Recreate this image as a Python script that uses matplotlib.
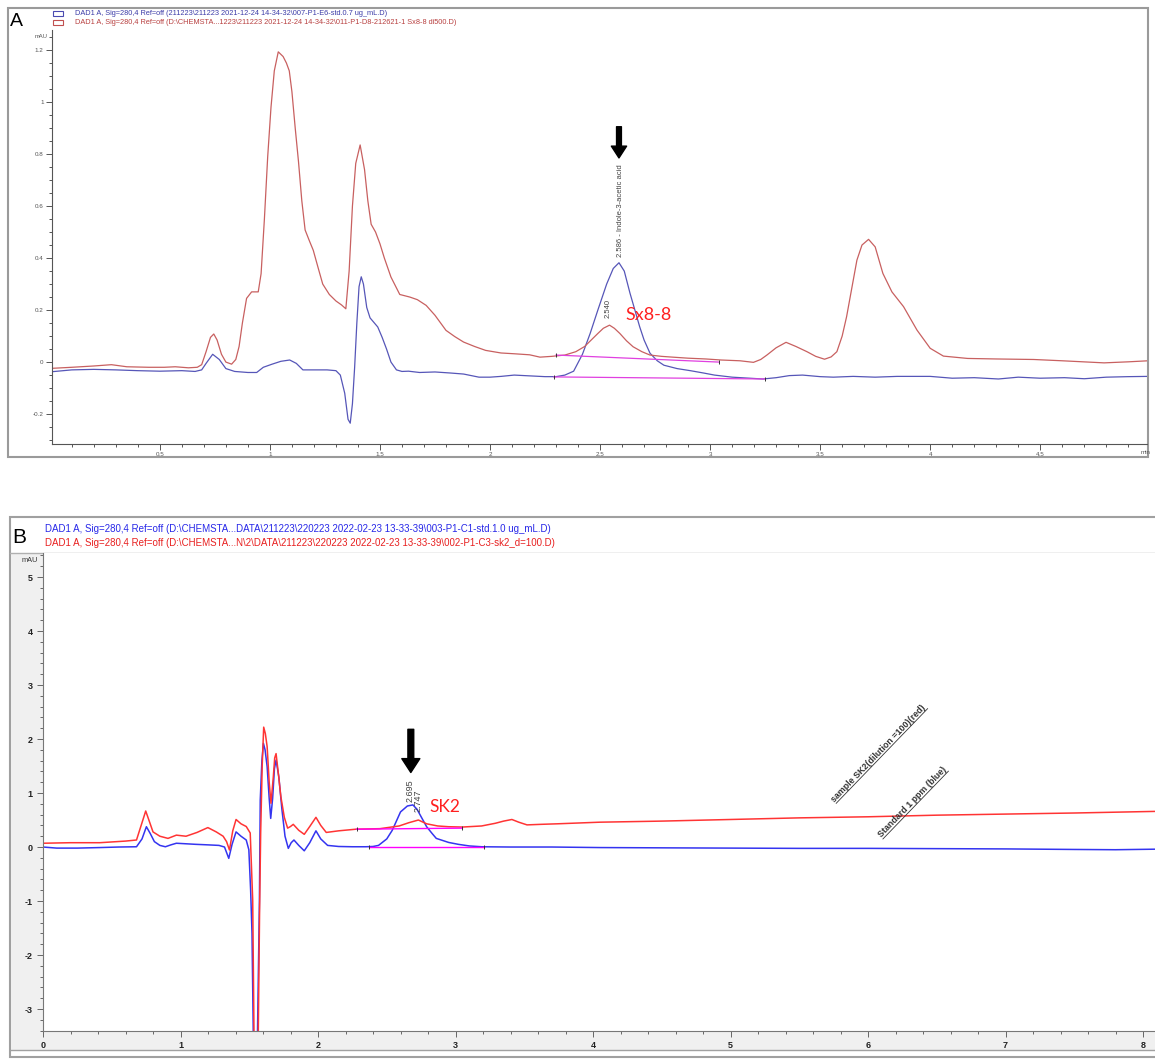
import numpy as np
import matplotlib.pyplot as plt
from matplotlib.patches import Rectangle
from matplotlib.lines import Line2D
from matplotlib.ticker import MultipleLocator, FixedLocator, FuncFormatter

plt.rcParams['font.family'] = ['Liberation Sans', 'DejaVu Sans']

W, H = 1155, 1060

# ---------------- panel A data (time min, mAU) ----------------
a_blue_t = [0.01, 0.10, 0.20, 0.30, 0.40, 0.50, 0.60, 0.66, 0.69, 0.71, 0.74, 0.77, 0.80, 0.84,
            0.90, 0.94, 0.97, 1.01, 1.05, 1.09, 1.12, 1.15, 1.20, 1.26, 1.30, 1.32, 1.34, 1.355,
            1.365, 1.375, 1.385, 1.395, 1.405, 1.415, 1.425, 1.44, 1.455, 1.47, 1.49, 1.51, 1.53,
            1.55, 1.575, 1.60, 1.63, 1.68, 1.75, 1.82, 1.88, 1.95, 2.00, 2.05, 2.11, 2.18, 2.25,
            2.30, 2.34, 2.38, 2.42, 2.455, 2.49, 2.53, 2.56, 2.586, 2.61, 2.636, 2.66, 2.68, 2.70,
            2.727, 2.76, 2.79, 2.85, 2.91, 2.97, 3.02, 3.10, 3.18, 3.24, 3.30, 3.36, 3.42, 3.50,
            3.56, 3.65, 3.75, 3.85, 4.00, 4.10, 4.20, 4.31, 4.40, 4.50, 4.61, 4.70, 4.80, 4.90, 4.99]
a_blue_v = [-0.037, -0.030, -0.028, -0.030, -0.033, -0.035, -0.033, -0.036, -0.030, -0.005, 0.030,
            0.010, -0.025, -0.036, -0.040, -0.040, -0.020, -0.008, 0.003, 0.008, -0.005, -0.030,
            -0.030, -0.030, -0.033, -0.050, -0.120, -0.220, -0.235, -0.160, -0.020, 0.150, 0.290,
            0.328, 0.300, 0.210, 0.170, 0.155, 0.135, 0.095, 0.050, 0.000, -0.030, -0.036, -0.035,
            -0.040, -0.038, -0.042, -0.046, -0.058, -0.058, -0.055, -0.050, -0.053, -0.056, -0.056,
            -0.050, -0.035, 0.030, 0.110, 0.200, 0.300, 0.360, 0.382, 0.350, 0.265, 0.195, 0.136,
            0.085, 0.034, 0.005, -0.012, -0.025, -0.033, -0.042, -0.050, -0.058, -0.062, -0.065,
            -0.060, -0.052, -0.050, -0.056, -0.058, -0.055, -0.058, -0.055, -0.055, -0.062, -0.060,
            -0.065, -0.058, -0.062, -0.060, -0.064, -0.058, -0.056, -0.055]

a_red_t = [0.01, 0.10, 0.20, 0.28, 0.35, 0.45, 0.52, 0.57, 0.63, 0.67, 0.69, 0.71, 0.73, 0.745,
           0.76, 0.78, 0.80, 0.826, 0.845, 0.86, 0.875, 0.894, 0.917, 0.947, 0.96, 0.975, 0.99,
           1.005, 1.02, 1.038, 1.06, 1.075, 1.088, 1.10, 1.115, 1.13, 1.145, 1.16, 1.18, 1.197,
           1.22, 1.24, 1.27, 1.30, 1.325, 1.345, 1.36, 1.375, 1.39, 1.41, 1.43, 1.445, 1.46, 1.48,
           1.50, 1.52, 1.55, 1.59, 1.636, 1.67, 1.71, 1.75, 1.80, 1.84, 1.88, 1.93, 1.98, 2.05,
           2.11, 2.18, 2.227, 2.28, 2.34, 2.39, 2.43, 2.46, 2.49, 2.515, 2.543, 2.565, 2.59, 2.62,
           2.65, 2.69, 2.727, 2.78, 2.83, 2.90, 2.98, 3.05, 3.136, 3.197, 3.23, 3.258, 3.30, 3.345,
           3.39, 3.44, 3.48, 3.52, 3.55, 3.576, 3.60, 3.62, 3.645, 3.667, 3.69, 3.72, 3.75, 3.785,
           3.826, 3.879, 3.94, 4.00, 4.06, 4.17, 4.30, 4.47, 4.60, 4.79, 4.90, 4.99]
a_red_v = [-0.024, -0.020, -0.015, -0.010, -0.018, -0.020, -0.020, -0.018, -0.022, -0.020, -0.010,
           0.040, 0.095, 0.108, 0.085, 0.030, 0.000, -0.008, 0.010, 0.060, 0.150, 0.245, 0.270,
           0.270, 0.340, 0.550, 0.790, 0.980, 1.120, 1.193, 1.175, 1.150, 1.120, 1.040, 0.900,
           0.770, 0.620, 0.508, 0.465, 0.430, 0.360, 0.300, 0.260, 0.235, 0.220, 0.205, 0.350,
           0.600, 0.764, 0.835, 0.740, 0.620, 0.530, 0.500, 0.455, 0.400, 0.327, 0.260, 0.250,
           0.240, 0.218, 0.180, 0.122, 0.098, 0.077, 0.060, 0.045, 0.035, 0.032, 0.028, 0.019,
           0.022, 0.027, 0.040, 0.060, 0.085, 0.110, 0.130, 0.142, 0.130, 0.110, 0.082, 0.059,
           0.040, 0.027, 0.022, 0.019, 0.015, 0.012, 0.008, 0.005, -0.001, 0.010, 0.027, 0.055,
           0.076, 0.060, 0.040, 0.022, 0.011, 0.020, 0.040, 0.100, 0.174, 0.290, 0.392, 0.450,
           0.472, 0.443, 0.341, 0.270, 0.213, 0.123, 0.053, 0.023, 0.014, 0.012, 0.010, 0.005,
           -0.003, 0.001, 0.005]

# integration baselines (start, end)
a_base_red = ([2.30, 3.04], [0.027, 0.000])
a_base_blue = ([2.29, 3.25], [-0.057, -0.065])

a_iaa_rt = 2.586
a_iaa_label = "2.586 - Indole-3-acetic acid"
a_red_rt = 2.540

legend_a = [
    "DAD1 A, Sig=280,4 Ref=off (211223\\211223 2021-12-24 14-34-32\\007-P1-E6-std.0.7 ug_mL.D)",
    "DAD1 A, Sig=280,4 Ref=off (D:\\CHEMSTA...1223\\211223 2021-12-24 14-34-32\\011-P1-D8-212621-1 Sx8-8 di500.D)",
]

# ---------------- panel B data ----------------
b_blue_t = [0.00, 0.10, 0.25, 0.413, 0.55, 0.68, 0.72, 0.752, 0.78, 0.81, 0.85, 0.89, 0.93, 0.97,
            1.04, 1.11, 1.20, 1.28, 1.32, 1.351, 1.375, 1.404, 1.44, 1.478, 1.497, 1.51, 1.52,
            1.53, 1.559, 1.574, 1.58, 1.592, 1.603, 1.615, 1.63, 1.645, 1.656, 1.67, 1.683, 1.695,
            1.715, 1.738, 1.76, 1.784, 1.805, 1.825, 1.86, 1.90, 1.94, 1.985, 2.02, 2.07, 2.15,
            2.25, 2.347, 2.40, 2.44, 2.50, 2.54, 2.60, 2.65, 2.69, 2.72, 2.75, 2.79, 2.83, 2.86,
            2.95, 3.02, 3.10, 3.19, 3.40, 3.70, 4.05, 4.50, 5.00, 5.50, 6.00, 6.50, 7.00, 7.50,
            7.80, 8.09]
b_blue_v = [0.00, -0.02, -0.02, -0.01, 0.00, 0.005, 0.15, 0.376, 0.25, 0.10, 0.03, 0.005, 0.04,
            0.07, 0.06, 0.05, 0.04, 0.03, 0.00, -0.21, 0.05, 0.28, 0.20, 0.13, -0.05, -0.8, -1.6,
            -3.6, -3.6, -0.99, 0.87, 1.6, 1.92, 1.80, 1.49, 0.90, 0.53, 0.90, 1.45, 1.61, 1.30,
            0.685, 0.20, -0.025, 0.08, 0.13, 0.03, -0.07, 0.08, 0.30, 0.15, 0.03, 0.01, 0.005,
            0.005, 0.01, 0.03, 0.15, 0.31, 0.65, 0.76, 0.78, 0.70, 0.56, 0.376, 0.25, 0.16, 0.085,
            0.05, 0.02, 0.005, 0.00, 0.00, -0.01, -0.015, -0.02, -0.025, -0.025, -0.03, -0.035,
            -0.045, -0.05, -0.04]

b_red_t = [0.00, 0.20, 0.413, 0.60, 0.68, 0.72, 0.747, 0.77, 0.80, 0.85, 0.909, 0.97, 1.04, 1.12,
           1.199, 1.26, 1.31, 1.335, 1.356, 1.38, 1.404, 1.44, 1.478, 1.507, 1.525, 1.535, 1.565,
           1.575, 1.583, 1.594, 1.605, 1.617, 1.63, 1.645, 1.658, 1.675, 1.685, 1.695, 1.71,
           1.73, 1.755, 1.779, 1.80, 1.82, 1.86, 1.90, 1.94, 1.985, 2.02, 2.06, 2.15, 2.275,
           2.45, 2.59, 2.66, 2.73, 2.79, 2.87, 2.95, 3.05, 3.19, 3.29, 3.35, 3.41, 3.46, 3.52,
           3.62, 3.74, 4.05, 4.50, 5.00, 5.50, 6.00, 6.50, 7.00, 7.50, 8.09]
b_red_v = [0.07, 0.08, 0.08, 0.11, 0.13, 0.45, 0.667, 0.50, 0.28, 0.20, 0.16, 0.22, 0.20, 0.27,
           0.36, 0.28, 0.20, 0.10, -0.055, 0.30, 0.51, 0.43, 0.38, 0.26, -0.98, -3.6, -3.6, -1.2,
           0.26, 1.5, 2.22, 2.10, 1.86, 1.20, 0.81, 1.30, 1.65, 1.73, 1.40, 0.93, 0.55, 0.35,
           0.38, 0.42, 0.31, 0.235, 0.38, 0.55, 0.40, 0.27, 0.30, 0.33, 0.34, 0.39, 0.45, 0.50,
           0.43, 0.39, 0.376, 0.37, 0.39, 0.44, 0.48, 0.51, 0.46, 0.41, 0.42, 0.43, 0.46, 0.48,
           0.51, 0.54, 0.56, 0.59, 0.61, 0.63, 0.66]

b_base_red = ([2.28, 3.05], [0.33, 0.35])
b_base_blue = ([2.37, 3.21], [0.00, 0.00])

b_iaa_rt = 2.695
b_red_rt = 2.747

legend_b = [
    "DAD1 A, Sig=280,4 Ref=off (D:\\CHEMSTA...DATA\\211223\\220223 2022-02-23 13-33-39\\003-P1-C1-std.1.0 ug_mL.D)",
    "DAD1 A, Sig=280,4 Ref=off (D:\\CHEMSTA...N\\2\\DATA\\211223\\220223 2022-02-23 13-33-39\\002-P1-C3-sk2_d=100.D)",
]


def fx(px):
    return px / W


def fy(py):
    return 1 - py / H


def frect(x0, y0, x1, y1, **kw):
    # rectangle given in image pixels (top-left origin), drawn behind the axes
    return Rectangle((fx(x0), fy(y1)), fx(x1) - fx(x0), fy(y0) - fy(y1),
                     transform=fig.transFigure, zorder=-2, **kw)


fig = plt.figure(figsize=(W / 100, H / 100), dpi=100)

# ================= panel A =================
fig.patches.append(frect(8, 8, 1148, 457, facecolor='white', edgecolor='#9a9a9a', lw=1.5))

axA = fig.add_axes([fx(52), fy(444), fx(1147) - fx(52), fy(30) - fy(444)])
axA.set_xlim(0.01, 4.985)
axA.set_ylim(-0.315, 1.277)
axA.patch.set_alpha(0)

c_blue_a = '#5656b8'
c_red_a = '#c86060'
axA.plot(a_blue_t, a_blue_v, color=c_blue_a, lw=0.9)
axA.plot(a_red_t, a_red_v, color=c_red_a, lw=0.9)
for bt, bv in (a_base_red, a_base_blue):
    axA.plot(bt, bv, color='#e040e0', lw=0.9)
    axA.plot(bt, bv, ls='none', marker='|', ms=3, mew=0.7, color='#333333')

for s in ('top', 'right'):
    axA.spines[s].set_visible(False)
for s in ('left', 'bottom'):
    axA.spines[s].set_color('#555555')
    axA.spines[s].set_linewidth(0.8)

axA.xaxis.set_major_locator(FixedLocator([0.5, 1, 1.5, 2, 2.5, 3, 3.5, 4, 4.5]))
axA.xaxis.set_minor_locator(MultipleLocator(0.1))
axA.yaxis.set_major_locator(MultipleLocator(0.2))
axA.yaxis.set_minor_locator(MultipleLocator(0.05))
fmt = FuncFormatter(lambda v, p: '%g' % round(v, 3))
axA.xaxis.set_major_formatter(fmt)
axA.yaxis.set_major_formatter(fmt)
axA.tick_params(which='both', direction='out', color='#555555', width=0.7,
                labelsize=4.5, labelcolor='#555555', pad=2)
axA.tick_params(which='major', length=4)
axA.tick_params(which='minor', length=2.2)
fig.text(fx(1141), fy(452), 'min', fontsize=4.5, color='#555555', ha='left', va='center')
fig.text(fx(41), fy(36), 'mAU', fontsize=4.2, color='#555555', ha='center', va='center')

fig.text(fx(10), fy(22), 'A', fontsize=14, ha='left', va='center')
fig.patches.append(frect(53, 11, 63, 16, facecolor='none', edgecolor='#4a4ab0', lw=0.8))
fig.patches.append(frect(53, 20, 63, 25, facecolor='none', edgecolor='#c05050', lw=0.8))
fig.text(fx(75), fy(13.5), legend_a[0], fontsize=5.35, color='#3c3ca8', va='center')
fig.text(fx(75), fy(22.5), legend_a[1], fontsize=5.35, color='#b84040', va='center')

axA.annotate('', xy=(a_iaa_rt, 0.785), xytext=(a_iaa_rt, 0.905),
             arrowprops=dict(facecolor='black', edgecolor='black', width=3.5,
                             headwidth=11, headlength=8.5, shrink=0))
axA.text(a_iaa_rt + 0.005, 0.405, a_iaa_label, rotation=90, fontsize=5.5,
         color='#444444', ha='center', va='bottom')
axA.text(a_red_rt - 0.005, 0.17, '%.3f' % a_red_rt, rotation=90, fontsize=5.5,
         color='#444444', ha='center', va='bottom')
axA.text(2.614, 0.18, 'Sx8-8', fontsize=13, color='#ff2020', family=['Lato', 'DejaVu Sans'],
         ha='left', va='center')

# ================= panel B =================
fig.patches.append(frect(10, 517, 1160, 1057, facecolor='white', edgecolor='#a0a0a0', lw=1.5))
fig.patches.append(frect(11, 553, 43, 1031, facecolor='#f0f0f0', edgecolor='none'))
fig.patches.append(frect(11, 1031, 1160, 1050, facecolor='#f0f0f0', edgecolor='none'))
fig.add_artist(Line2D([fx(10), fx(1155)], [fy(553), fy(553)], color='#b0b0b0', lw=1,
                      transform=fig.transFigure, zorder=-1))
fig.add_artist(Line2D([fx(10), fx(1155)], [fy(1050), fy(1050)], color='#a0a0a0', lw=1,
                      transform=fig.transFigure, zorder=-1))

axB = fig.add_axes([fx(43), fy(1031), fx(1155) - fx(43), fy(553) - fy(1031)])
axB.set_xlim(0, 8.087)
axB.set_ylim(-3.407, 5.445)

c_blue_b = '#3434f0'
c_red_b = '#ff3434'
axB.plot(b_blue_t, b_blue_v, color=c_blue_b, lw=1.1)
axB.plot(b_red_t, b_red_v, color=c_red_b, lw=1.1)
for bt, bv in (b_base_red, b_base_blue):
    axB.plot(bt, bv, color='#ff00ff', lw=1.0)
    axB.plot(bt, bv, ls='none', marker='|', ms=3.5, mew=0.7, color='#333333')

for s in ('top', 'right'):
    axB.spines[s].set_visible(False)
for s in ('left', 'bottom'):
    axB.spines[s].set_color('#777777')
    axB.spines[s].set_linewidth(0.8)
axB.xaxis.set_major_locator(MultipleLocator(1))
axB.xaxis.set_minor_locator(MultipleLocator(0.2))
axB.yaxis.set_major_locator(MultipleLocator(1))
axB.yaxis.set_minor_locator(MultipleLocator(0.2))
axB.xaxis.set_major_formatter(fmt)
axB.yaxis.set_major_formatter(fmt)
axB.tick_params(which='both', direction='out', color='#666666', width=0.7,
                labelsize=6.5, labelcolor='#222222', pad=3)
axB.tick_params(which='major', length=4.5)
axB.tick_params(which='minor', length=2.5)
for lab in axB.get_xticklabels() + axB.get_yticklabels():
    lab.set_fontweight('bold')
fig.text(fx(30), fy(561), 'mAU', fontsize=5.3, color='#333333', ha='center', va='center')

fig.text(fx(12), fy(537), 'B', fontsize=15, ha='left', va='center')
fig.text(fx(45), fy(529.5), legend_b[0], fontsize=7.0, color='#2828e8', va='center')
fig.text(fx(45), fy(542.5), legend_b[1], fontsize=7.0, color='#e82020', va='center')

axB.annotate('', xy=(2.675, 1.38), xytext=(2.675, 2.18),
             arrowprops=dict(facecolor='black', edgecolor='black', width=4.2,
                             headwidth=13, headlength=10, shrink=0))
axB.text(b_iaa_rt - 0.025, 0.83, '%.3f' % b_iaa_rt, rotation=90, fontsize=6.5,
         color='#444444', ha='center', va='bottom')
axB.text(b_red_rt - 0.017, 0.64, '%.3f' % b_red_rt, rotation=90, fontsize=6.5,
         color='#444444', ha='center', va='bottom')
axB.text(2.81, 0.74, 'SK2', fontsize=12.5, color='#ff2020', family=['Lato', 'DejaVu Sans'],
         ha='left', va='center')


def underlined(ax, x, y, s, angle, **kw):
    ax.text(x, y, s, rotation=angle, rotation_mode='anchor', ha='left', va='baseline', **kw)
    r = fig.canvas.get_renderer()
    tmp = ax.text(0, 0, s, **kw)
    w = tmp.get_window_extent(r).width
    tmp.remove()
    x0, y0 = ax.transData.transform((x, y))
    a = np.radians(angle)
    off = 1.6
    p0 = np.array([x0 + off * np.sin(a), y0 - off * np.cos(a)])
    p1 = p0 + w * np.array([np.cos(a), np.sin(a)])
    inv = fig.transFigure.inverted()
    q0, q1 = inv.transform(p0), inv.transform(p1)
    fig.add_artist(Line2D([q0[0], q1[0]], [q0[1], q1[1]], color='#333333', lw=0.6,
                          transform=fig.transFigure))


underlined(axB, 5.76, 0.83, 'sample SK2(dilution =100)(red)', 46, fontsize=6.4,
           fontweight='bold', color='#333333')
underlined(axB, 6.10, 0.17, 'Standard 1 ppm (blue)', 46, fontsize=6.4,
           fontweight='bold', color='#333333')

fig.savefig('out.png', dpi=100)
